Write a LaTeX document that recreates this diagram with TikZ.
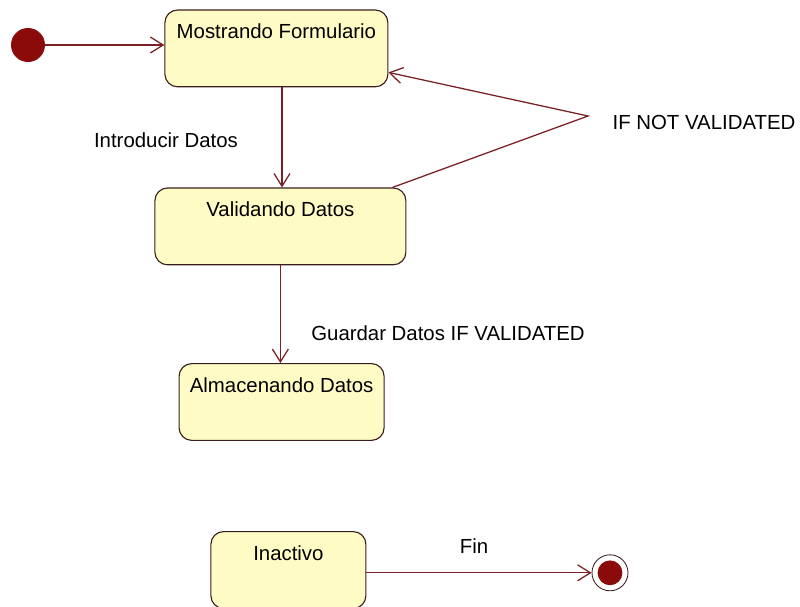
\documentclass[tikz,border=0pt]{standalone}
\usepackage{fontspec}
\setmainfont{Liberation Sans}
\usepackage{xcolor}
\usepackage{tikz}
\usetikzlibrary{positioning,arrows.meta}

\begin{document}
\begin{tikzpicture}
  % Colour definitions
  \definecolor{stfill}{HTML}{FFFBC4}
  \definecolor{stbdr}{HTML}{3A1E1E}
  \definecolor{trans}{HTML}{7A1F24}
  \definecolor{dotred}{HTML}{8B0A0A}

  \tikzstyle{state} = [draw=stbdr, fill=stfill, rounded corners=9pt,
    inner sep=0pt, text height=0.72cm, text depth=1.2cm, line width=0.8pt,
    font=\fontsize{14.5}{17}\selectfont]
  \tikzstyle{tr} = [draw=trans, line width=0.9pt,
    -{Straight Barb[length=3.2mm, width=4mm]}]
  \tikzstyle{lbl} = [font=\fontsize{14.5}{17}\selectfont, inner sep=1pt]

  \useasboundingbox (0,0) rectangle (20,-15.15);

  % Pseudo states
  \node[circle, fill=dotred, minimum size=0.85cm, inner sep=0pt] (init) at (0.7,-1.125) {};
  \node[circle, draw=stbdr, fill=white, minimum size=0.9cm, inner sep=0pt, line width=0.6pt] (fin) at (15.25,-14.32) {};
  \node[circle, fill=dotred, minimum size=0.62cm, inner sep=0pt] (finDot) at (fin) {};

  % States
  \node[state, minimum width=5.575cm] (most) at (6.91,-1.21) {Mostrando Formulario};
  \node[state, minimum width=6.275cm] (valid) at (7.01,-5.66) {Validando Datos};
  \node[state, minimum width=5.125cm] (alm) at (7.04,-10.05) {Almacenando Datos};
  \node[state, minimum width=3.875cm] (inact) at (7.21,-14.25) {Inactivo};

  \coordinate (bend) at (14.7,-2.9);

  % Transitions
  \draw[tr] (init) -- (init -| most.west);
  \draw[tr] ([xshift=0.14cm]most.south) -- ([xshift=0.14cm]most.south |- valid.north);
  \draw[tr] (valid.south) -- (valid.south |- alm.north);
  \draw[tr] ([xshift=-0.35cm]valid.north east) -- (bend) -- ([yshift=-0.6cm]most.east);
  \draw[tr] (inact.east |- fin) -- (fin);

  % Transition labels
  \node[lbl] (lIntro) at (4.15,-3.5) {Introducir Datos};
  \node[lbl] (lGuardar) at (11.2,-8.33) {Guardar Datos IF VALIDATED};
  \node[lbl] (lNot) at (17.6,-3.05) {IF NOT VALIDATED};
  \node[lbl] (lFin) at (11.85,-13.65) {Fin};
\end{tikzpicture}
\end{document}
